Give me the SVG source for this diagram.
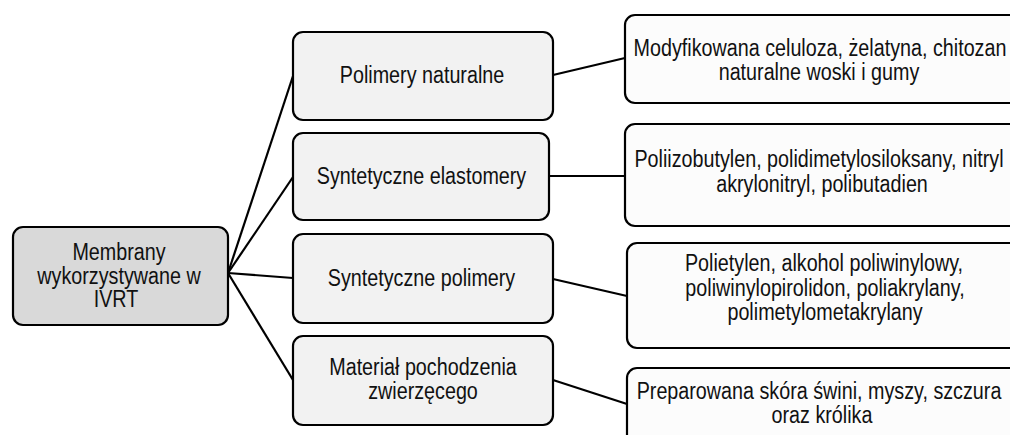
<svg xmlns="http://www.w3.org/2000/svg" width="1010" height="435" viewBox="0 0 1010 435">
<style>
.box{stroke:#000;stroke-width:2.2}
.root{fill:#d9d9d9}
.mid{fill:#f2f2f2}
.leaf{fill:#fcfcfc}
.conn line{stroke:#000;stroke-width:2.2}
text{font-family:"Liberation Sans",Arial,sans-serif;font-size:23.5px;fill:#111;text-anchor:middle}
</style>
<rect width="1010" height="435" fill="#fff"/>
<g id="connectors" class="conn">
<line x1="228" y1="273" x2="293" y2="76"/>
<line x1="228" y1="273" x2="293" y2="177"/>
<line x1="228" y1="273" x2="293" y2="278"/>
<line x1="228" y1="273" x2="293" y2="380"/>
<line x1="553" y1="75" x2="625" y2="58"/>
<line x1="549" y1="176" x2="625" y2="176"/>
<line x1="553" y1="279" x2="627" y2="296"/>
<line x1="553" y1="380" x2="627" y2="404"/>
</g>
<g id="root">
<rect class="box root" x="13" y="227" width="215" height="98" rx="10"/>
<text transform="translate(119 260) scale(0.84 1)">Membrany</text>
<text transform="translate(119 283.5) scale(0.84 1)">wykorzystywane w</text>
<text transform="translate(116 307) scale(0.84 1)">IVRT</text>
</g>
<g id="n1">
<rect class="box mid" x="293" y="32" width="260" height="88" rx="10"/>
<text transform="translate(422 83) scale(0.84 1)">Polimery naturalne</text>
</g>
<g id="n2">
<rect class="box mid" x="293" y="133" width="256" height="87" rx="10"/>
<text transform="translate(421.5 184) scale(0.84 1)">Syntetyczne elastomery</text>
</g>
<g id="n3">
<rect class="box mid" x="293" y="234" width="260" height="89" rx="10"/>
<text transform="translate(421.5 285.5) scale(0.84 1)">Syntetyczne polimery</text>
</g>
<g id="n4">
<rect class="box mid" x="293" y="336" width="260" height="89" rx="10"/>
<text transform="translate(423 375) scale(0.84 1)">Materiał pochodzenia</text>
<text transform="translate(423 399) scale(0.84 1)">zwierzęcego</text>
</g>
<g id="r1">
<rect class="box leaf" x="625" y="15" width="400" height="88" rx="10"/>
<text transform="translate(820 55.5) scale(0.84 1)">Modyfikowana celuloza, żelatyna, chitozan</text>
<text transform="translate(819 80) scale(0.84 1)">naturalne woski i gumy</text>
</g>
<g id="r2">
<rect class="box leaf" x="625" y="124" width="400" height="102" rx="10"/>
<text transform="translate(819 167) scale(0.84 1)">Poliizobutylen, polidimetylosiloksany, nitryl</text>
<text transform="translate(822 192) scale(0.84 1)">akrylonitryl, polibutadien</text>
</g>
<g id="r3">
<rect class="box leaf" x="627" y="243" width="400" height="105" rx="10"/>
<text transform="translate(824 271) scale(0.84 1)">Polietylen, alkohol poliwinylowy,</text>
<text transform="translate(825 296) scale(0.84 1)">poliwinylopirolidon, poliakrylany,</text>
<text transform="translate(825 320) scale(0.84 1)">polimetylometakrylany</text>
</g>
<g id="r4">
<rect class="box leaf" x="627" y="368" width="400" height="90" rx="10"/>
<text transform="translate(819 399) scale(0.84 1)">Preparowana skóra świni, myszy, szczura</text>
<text transform="translate(822 423) scale(0.84 1)">oraz królika</text>
</g>
</svg>
